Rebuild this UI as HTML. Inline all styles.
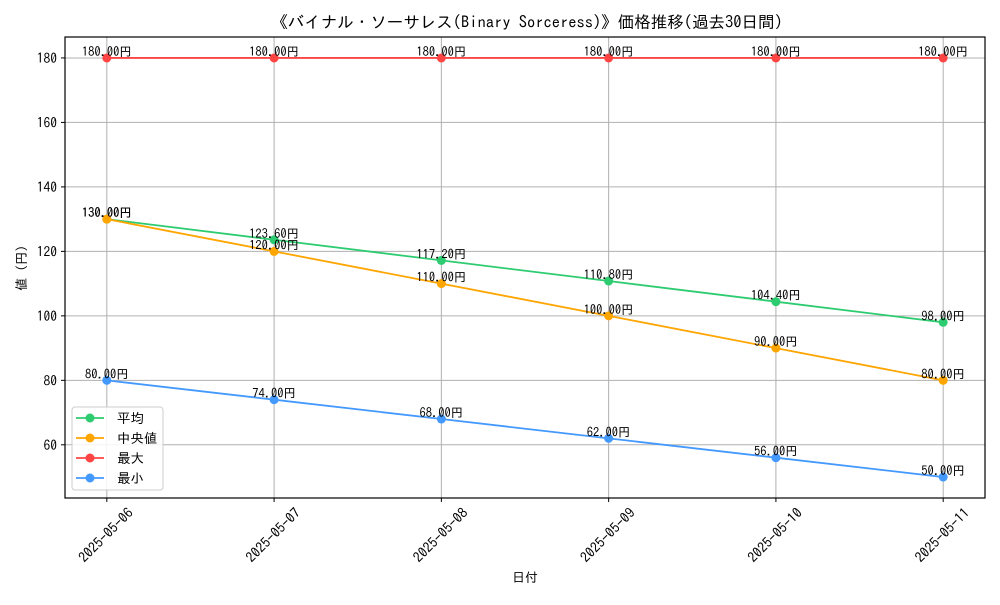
<!DOCTYPE html>
<html><head><meta charset="utf-8"><style>
body{margin:0;background:#fff}
svg text{font-family:"IPAGothic","Liberation Sans","Noto Sans CJK JP",sans-serif;fill:#000}
</style></head><body>
<svg id="c" width="1000" height="600"></svg>
<script>
const dates=["2025-05-06","2025-05-07","2025-05-08","2025-05-09","2025-05-10","2025-05-11"];
const avgVals=[130,123.6,117.2,110.8,104.4,98];
const medVals=[130,120,110,100,90,80];
const maxVals=[180,180,180,180,180,180];
const minVals=[80,74,68,62,56,50];
const yTicks=[60,80,100,120,140,160,180];
const L=65,R=985,T=37,B=498,ymin=43.5,ymax=186.5;
const x=i=>L+(i+0.25)*(R-L)/(dates.length-0.5);
const y=v=>B-(v-ymin)*(B-T)/(ymax-ymin);
const svg=document.getElementById('c');const NS="http://www.w3.org/2000/svg";
function mk(t,a,p){const e=document.createElementNS(NS,t);for(const k in a)e.setAttribute(k,a[k]);(p||svg).appendChild(e);return e;}
const title=mk('text',{x:527,y:28,'text-anchor':'middle','font-size':16.5});
title.textContent="《バイナル・ソーサレス(Binary Sorceress)》価格推移(過去30日間)";


yTicks.forEach(v=>{const g=mk('line',{x1:L,x2:R,y1:y(v),y2:y(v),stroke:'#b0b0b0','stroke-width':1});


mk('line',{x1:L-4,x2:L,y1:y(v),y2:y(v),stroke:'#000'});
const t=mk('text',{x:L-8,y:y(v)+5,'text-anchor':'end','font-size':13.5});t.textContent=v;

});
dates.forEach((d,i)=>{const g=mk('line',{x1:x(i),x2:x(i),y1:T,y2:B,stroke:'#b0b0b0','stroke-width':1});


mk('line',{x1:x(i),x2:x(i),y1:B,y2:B+4,stroke:'#000'});
const cx=x(i)-1,cy=535;
const t=mk('text',{x:cx,y:cy+5,'text-anchor':'middle','font-size':14,transform:`rotate(-45 ${cx} ${cy})`});t.textContent=d;

});
const series=[["平均",avgVals,"#2ecc71"],["中央値",medVals,"#ffa500"],["最大",maxVals,"#ff4444"],["最小",minVals,"#4499ff"]];
series.forEach(([n,vals,c])=>{
const p=mk('polyline',{points:vals.map((v,i)=>x(i)+','+y(v)).join(' '),fill:'none',stroke:c,'stroke-width':1.8});


vals.forEach((v,i)=>{const m=mk('circle',{cx:x(i),cy:y(v),r:4.5,fill:c});


const t=mk('text',{x:x(i),y:y(v)-2,'text-anchor':'middle','font-size':12.5});t.textContent=v.toFixed(2)+"円";

});});
mk('rect',{x:L,y:T,width:R-L,height:B-T,fill:'none',stroke:'#000','stroke-width':1.2});
const lg=mk('rect',{x:72,y:407,width:91,height:83,rx:3,fill:'#fff','fill-opacity':0.85,stroke:'#ccc'});


series.forEach(([n,vals,c],k)=>{const yy=418+k*20;
mk('line',{x1:76,x2:104,y1:yy,y2:yy,stroke:c,'stroke-width':1.8});
mk('circle',{cx:90,cy:yy,r:4.5,fill:c});
const t=mk('text',{x:117,y:yy+5,'font-size':13.5});t.textContent=n;

});
const xt=mk('text',{x:525,y:582,'text-anchor':'middle','font-size':13});xt.textContent="日付";


const yt=mk('text',{x:26,y:268,'text-anchor':'middle','font-size':13,transform:'rotate(-90 26 268)'});yt.textContent="値 (円)";


</script></body></html>
